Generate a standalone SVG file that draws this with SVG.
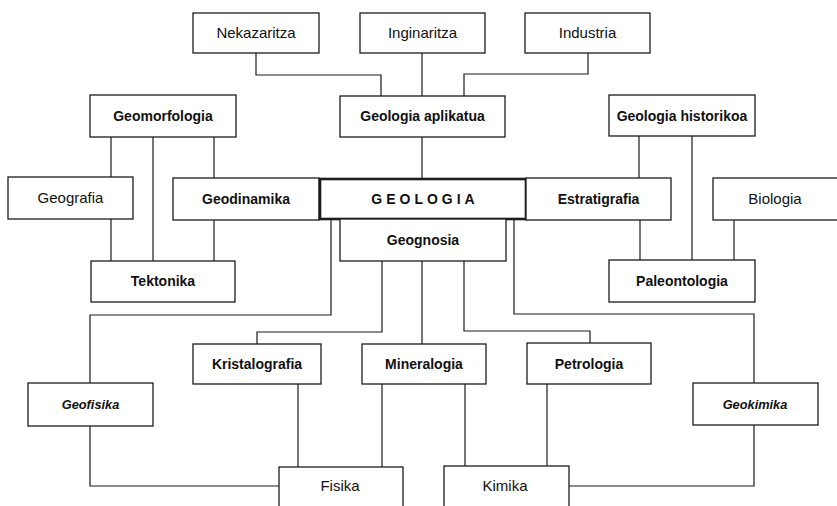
<svg xmlns="http://www.w3.org/2000/svg" width="837" height="506" viewBox="0 0 837 506">
  <style>
    .box { fill: #ffffff; stroke: #1c1c1c; stroke-width: 1.3; }
    .main { stroke-width: 2.6; }
    .wire { fill: none; stroke: #1c1c1c; stroke-width: 1.2; }
    text { font-family: "Liberation Sans", Arial, Helvetica, sans-serif; font-size: 15px; fill: #111111; text-anchor: middle; }
    .b { font-weight: bold; font-size: 14px; }
    .it { font-style: italic; font-weight: bold; font-size: 12.8px; }
    .sp { letter-spacing: 4px; }
  </style>
  <rect width="837" height="506" fill="#ffffff"/>

  <!-- connectors -->
  <g id="connectors" class="wire">
    <path d="M256,53 V75 H381 V96"/>
    <path d="M422,53 V96"/>
    <path d="M588,53 V74 H464 V96"/>
    <path d="M422,137 V179"/>
    <path d="M111,137 V177"/>
    <path d="M111,219 V261"/>
    <path d="M153,137 V261"/>
    <path d="M214,137 V178"/>
    <path d="M214,220 V261"/>
    <path d="M639,136 V178"/>
    <path d="M640,220 V260"/>
    <path d="M692,136 V260"/>
    <path d="M734,220 V260"/>
    <path d="M331,219 V315 H90 V383"/>
    <path d="M90,426 V486 H279"/>
    <path d="M514,219 V314 H754 V383"/>
    <path d="M754,425 V486 H569"/>
    <path d="M382,261 V332 H257 V344"/>
    <path d="M422,261 V344"/>
    <path d="M464,261 V331 H590 V343"/>
    <path d="M298,384 V467"/>
    <path d="M382,384 V467"/>
    <path d="M465,384 V466"/>
    <path d="M547,384 V466"/>
  </g>

  <!-- top row -->
  <g id="nekazaritza"><rect class="box" x="193" y="13" width="126" height="40"/><text x="256" y="38">Nekazaritza</text></g>
  <g id="inginaritza"><rect class="box" x="360" y="13" width="125" height="40"/><text x="422.5" y="38">Inginaritza</text></g>
  <g id="industria"><rect class="box" x="525" y="13" width="125" height="40"/><text x="587.5" y="38">Industria</text></g>

  <!-- second row -->
  <g id="geomorfologia"><rect class="box" x="90" y="95" width="146" height="42"/><text class="b" x="163" y="121">Geomorfologia</text></g>
  <g id="geologia-aplikatua"><rect class="box" x="340" y="96" width="165" height="41"/><text class="b" x="422.5" y="121">Geologia aplikatua</text></g>
  <g id="geologia-historikoa"><rect class="box" x="609" y="95" width="146" height="41"/><text class="b" x="682" y="120.5">Geologia historikoa</text></g>

  <!-- central row -->
  <g id="geografia"><rect class="box" x="8" y="177" width="125" height="42"/><text x="70.5" y="203">Geografia</text></g>
  <g id="geodinamika"><rect class="box" x="173" y="178" width="146" height="42"/><text class="b" x="246" y="204">Geodinamika</text></g>
  <g id="geologia"><rect class="box main" x="320" y="179" width="206" height="40"/><text class="b sp" x="425" y="204">GEOLOGIA</text></g>
  <g id="estratigrafia"><rect class="box" x="526" y="178" width="145" height="42"/><text class="b" x="598.5" y="204">Estratigrafia</text></g>
  <g id="biologia"><rect class="box" x="713" y="178" width="140" height="42"/><text x="775" y="204">Biologia</text></g>

  <g id="geognosia"><rect class="box" x="340" y="219" width="166" height="42"/><text class="b" x="423" y="245">Geognosia</text></g>
  <g id="tektonika"><rect class="box" x="91" y="261" width="144" height="41"/><text class="b" x="163" y="286">Tektonika</text></g>
  <g id="paleontologia"><rect class="box" x="609" y="260" width="146" height="42"/><text class="b" x="682" y="286">Paleontologia</text></g>

  <!-- lower rows -->
  <g id="kristalografia"><rect class="box" x="193" y="344" width="128" height="40"/><text class="b" x="257" y="369">Kristalografia</text></g>
  <g id="mineralogia"><rect class="box" x="362" y="344" width="124" height="40"/><text class="b" x="424" y="369">Mineralogia</text></g>
  <g id="petrologia"><rect class="box" x="527" y="343" width="124" height="41"/><text class="b" x="589" y="369">Petrologia</text></g>

  <g id="geofisika"><rect class="box" x="28" y="383" width="125" height="43"/><text class="it" x="90.5" y="408.5">Geofisika</text></g>
  <g id="geokimika"><rect class="box" x="693" y="383" width="125" height="42"/><text class="it" x="755" y="408.5">Geokimika</text></g>

  <g id="fisika"><rect class="box" x="279" y="467" width="124" height="50"/><text x="340" y="491">Fisika</text></g>
  <g id="kimika"><rect class="box" x="444" y="466" width="125" height="50"/><text x="505" y="491">Kimika</text></g>
</svg>
